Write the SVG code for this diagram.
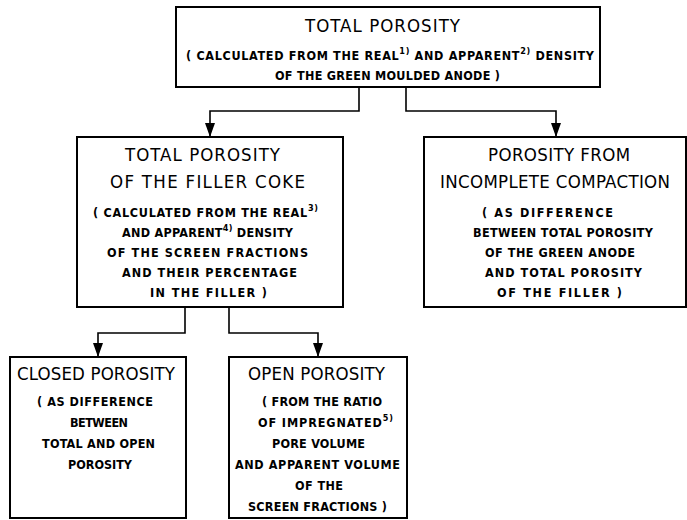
<svg xmlns="http://www.w3.org/2000/svg" width="687" height="520" viewBox="0 0 687 520">
<style>
.box{fill:#fff;stroke:#000;stroke-width:2}
.t{font-family:"DejaVu Sans Condensed","DejaVu Sans",sans-serif;fill:#000}
.h{font-size:18.5px}
.s{font-size:12.5px;font-weight:bold}
.sup{font-size:9px}
.c{fill:none;stroke:#000;stroke-width:1.6}
</style>
<defs>
<marker id="ah" viewBox="0 0 14 10" refX="14" refY="5" markerWidth="14" markerHeight="10" markerUnits="userSpaceOnUse" orient="auto">
<path d="M0,0 L14,5 L0,10 Z" fill="#000"/>
</marker>
</defs>
<rect width="687" height="520" fill="#fff"/>
<g id="connectors">
<path class="c" d="M359,87 V111 H210 V137" marker-end="url(#ah)"/>
<path class="c" d="M406,87 V111 H556 V137" marker-end="url(#ah)"/>
<path class="c" d="M185,307 V333 H98 V357" marker-end="url(#ah)"/>
<path class="c" d="M229,307 V333 H318 V357" marker-end="url(#ah)"/>
</g>
<g id="total-porosity">
<rect class="box" x="176" y="7" width="424" height="80"/>
<text class="t h" x="305" y="32" textLength="155">TOTAL POROSITY</text>
<text class="t s" x="186" y="60" textLength="408">( CALCULATED FROM THE REAL<tspan class="sup" dy="-6">1)</tspan><tspan dy="6"> AND APPARENT</tspan><tspan class="sup" dy="-6">2)</tspan><tspan dy="6"> DENSITY</tspan></text>
<text class="t s" x="275" y="80" textLength="225">OF THE GREEN MOULDED ANODE )</text>
</g>
<g id="filler-coke">
<rect class="box" x="77" y="137" width="266" height="170"/>
<text class="t h" x="125" y="161" textLength="155">TOTAL POROSITY</text>
<text class="t h" x="110" y="188" textLength="195">OF THE FILLER COKE</text>
<text class="t s" x="93" y="217" textLength="225">( CALCULATED FROM THE REAL<tspan class="sup" dy="-6">3)</tspan></text>
<text class="t s" x="122" y="237" textLength="171">AND APPARENT<tspan class="sup" dy="-6">4)</tspan><tspan dy="6"> DENSITY</tspan></text>
<text class="t s" x="107" y="257" textLength="201">OF THE SCREEN FRACTIONS</text>
<text class="t s" x="122" y="277" textLength="175">AND THEIR PERCENTAGE</text>
<text class="t s" x="150" y="297" textLength="117">IN THE FILLER )</text>
</g>
<g id="incomplete-compaction">
<rect class="box" x="424" y="137" width="262" height="170"/>
<text class="t h" x="488" y="161" textLength="142">POROSITY FROM</text>
<text class="t h" x="440" y="188" textLength="230">INCOMPLETE COMPACTION</text>
<text class="t s" x="482" y="217" textLength="131">( AS DIFFERENCE</text>
<text class="t s" x="473" y="237" textLength="180">BETWEEN TOTAL POROSITY</text>
<text class="t s" x="485" y="257" textLength="150">OF THE GREEN ANODE</text>
<text class="t s" x="485" y="277" textLength="157">AND TOTAL POROSITY</text>
<text class="t s" x="497" y="297" textLength="125">OF THE FILLER )</text>
</g>
<g id="closed-porosity">
<rect class="box" x="10" y="357" width="176" height="161"/>
<text class="t h" x="17" y="380" textLength="158">CLOSED POROSITY</text>
<text class="t s" x="37" y="406" textLength="116">( AS DIFFERENCE</text>
<text class="t s" x="70" y="427" textLength="58">BETWEEN</text>
<text class="t s" x="42" y="448" textLength="113">TOTAL AND OPEN</text>
<text class="t s" x="68" y="469" textLength="64">POROSITY</text>
</g>
<g id="open-porosity">
<rect class="box" x="229" y="357" width="178" height="161"/>
<text class="t h" x="248" y="380" textLength="137">OPEN POROSITY</text>
<text class="t s" x="262" y="406" textLength="120">( FROM THE RATIO</text>
<text class="t s" x="258" y="427" textLength="135">OF IMPREGNATED<tspan class="sup" dy="-6">5)</tspan></text>
<text class="t s" x="272" y="448" textLength="93">PORE VOLUME</text>
<text class="t s" x="235" y="469" textLength="165">AND APPARENT VOLUME</text>
<text class="t s" x="295" y="490" textLength="48">OF THE</text>
<text class="t s" x="248" y="511" textLength="139">SCREEN FRACTIONS )</text>
</g>
</svg>
